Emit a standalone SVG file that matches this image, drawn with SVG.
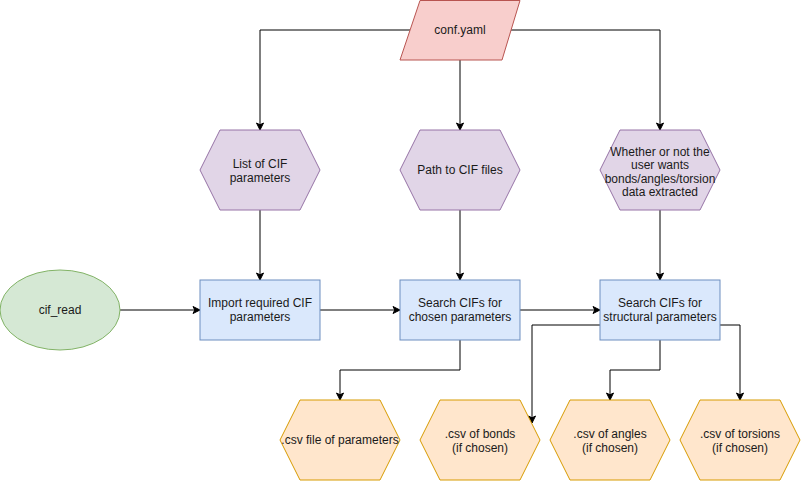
<svg xmlns="http://www.w3.org/2000/svg" width="801" height="481" viewBox="0 0 801 481">
<defs>
<marker id="arr" markerWidth="10" markerHeight="10" refX="8" refY="5" orient="auto" markerUnits="userSpaceOnUse">
<path d="M1,1.5 L8,5 L1,8.5 L2.8,5 Z" fill="#000" stroke="#000" stroke-width="1"/>
</marker>
<style>
text{font-family:"Liberation Sans",Arial,sans-serif;font-size:12px;fill:#1a1a1a;text-anchor:middle}
.pink{fill:#f8cecc;stroke:#b85450}
.purple{fill:#e1d5e7;stroke:#9673a6}
.blue{fill:#dae8fc;stroke:#6c8ebf}
.green{fill:#d5e8d4;stroke:#82b366}
.orange{fill:#ffe6cc;stroke:#d79b00}
.c{fill:none;stroke:#000;stroke-width:1;marker-end:url(#arr)}
</style>
</defs>
<rect width="801" height="481" fill="#fff"/>
<g id="connectors">
<path class="c" d="M410,30 H260 V130"/>
<path class="c" d="M460,60 V130"/>
<path class="c" d="M511,30 H660 V130"/>
<path class="c" d="M260,210 V280"/>
<path class="c" d="M460,210 V280"/>
<path class="c" d="M660,210 V280"/>
<path class="c" d="M120,310 H200"/>
<path class="c" d="M320,310 H400"/>
<path class="c" d="M520,310 H600"/>
<path class="c" d="M460,340 V370 H340 V400"/>
<path class="c" d="M600,325 H532 V423"/>
<path class="c" d="M660,340 V370 H610 V400"/>
<path class="c" d="M720,325 H740 V400"/>
</g>
<g id="conf"><polygon class="pink" points="420,0.5 520,0.5 502,60 400,60"/><text x="460" y="34">conf.yaml</text></g>
<g id="listcif"><polygon class="purple" points="220,130 300,130 320,170 300,210 220,210 200,170"/><text x="260" y="168">List of CIF</text><text x="260" y="182">parameters</text></g>
<g id="path"><polygon class="purple" points="420,130 500,130 520,170 500,210 420,210 400,170"/><text x="460" y="174">Path to CIF files</text></g>
<g id="whether"><polygon class="purple" points="620,130 700,130 720,170 700,210 620,210 600,170"/><text x="660" y="156">Whether or not the</text><text x="660" y="169">user wants</text><text x="660" y="183">bonds/angles/torsion</text><text x="660" y="196">data extracted</text></g>
<g id="cifread"><ellipse class="green" cx="60" cy="310" rx="60" ry="40"/><text x="60" y="314">cif_read</text></g>
<g id="import"><rect class="blue" x="200" y="280" width="120" height="60"/><text x="260" y="307">Import required CIF</text><text x="260" y="321">parameters</text></g>
<g id="search"><rect class="blue" x="400" y="280" width="120" height="60"/><text x="460" y="307">Search CIFs for</text><text x="460" y="321">chosen parameters</text></g>
<g id="structural"><rect class="blue" x="600" y="280" width="120" height="60"/><text x="660" y="307">Search CIFs for</text><text x="660" y="321">structural parameters</text></g>
<g id="csvparams"><polygon class="orange" points="300,400 380,400 400,440 380,480 300,480 280,440"/><text x="340" y="444">.csv file of parameters</text></g>
<g id="bonds"><polygon class="orange" points="440,400 520,400 540,440 520,480 440,480 420,440"/><text x="480" y="438">.csv of bonds</text><text x="480" y="452">(if chosen)</text></g>
<g id="angles"><polygon class="orange" points="570,400 650,400 670,440 650,480 570,480 550,440"/><text x="610" y="438">.csv of angles</text><text x="610" y="452">(if chosen)</text></g>
<g id="torsions"><polygon class="orange" points="700,400 780,400 800,440 780,480 700,480 680,440"/><text x="740" y="438">.csv of torsions</text><text x="740" y="452">(if chosen)</text></g>
</svg>
